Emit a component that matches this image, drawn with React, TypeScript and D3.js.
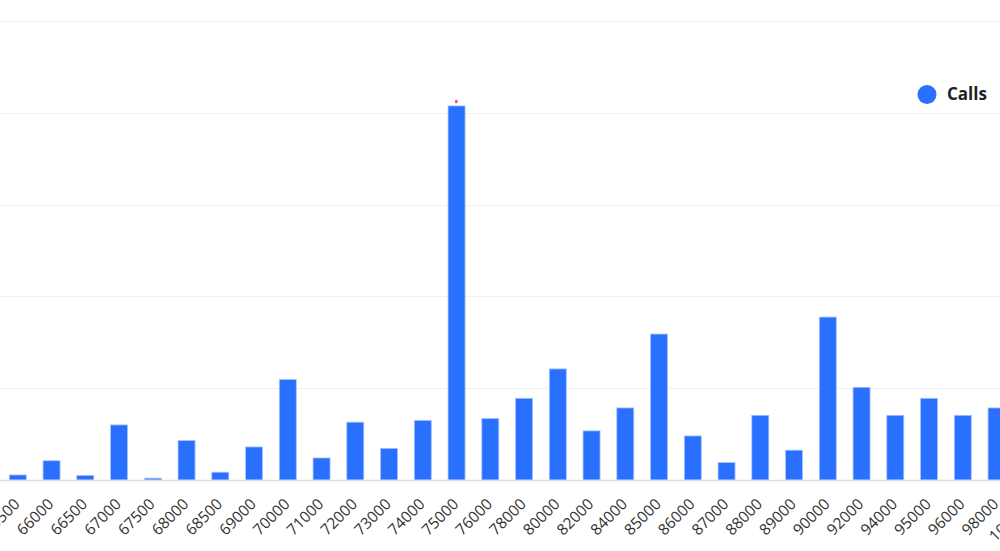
import React from "react";
import * as d3 from "d3";

const categories = [
  "65500", "66000", "66500", "67000", "67500", "68000", "68500", "69000",
  "70000", "71000", "72000", "73000", "74000", "75000", "76000", "78000",
  "80000", "82000", "84000", "85000", "86000", "87000", "88000", "89000",
  "90000", "92000", "94000", "95000", "96000", "98000", "100000",
];
const calls = [
  1.1, 4.2, 1.0, 12.0, 0.4, 8.6, 1.7, 7.2,
  21.9, 4.8, 12.6, 6.9, 13.0, 81.5, 13.4, 17.8,
  24.2, 10.7, 15.7, 31.8, 9.6, 3.8, 14.1, 6.5,
  35.5, 20.2, 14.1, 17.8, 14.1, 15.7, 12.0,
];
const yTicks = [0, 20, 40, 60, 80, 100];
const markerCategory = "75000";
const markerRange = [82.1, 82.8];
const seriesName = "Calls";

export default function App() {
  const W = 1000;
  const H = 551;
  const step = 33.75;
  const c0 = 17.8;
  const x = d3
    .scaleBand<string>()
    .domain(categories)
    .range([c0 - step / 2, c0 - step / 2 + step * categories.length])
    .paddingInner(0.5)
    .paddingOuter(0.25);
  const y = d3.scaleLinear().domain([0, 100]).range([480, 21]);
  const bw = 17;
  const cx = (c: string) => (x(c) as number) + x.bandwidth() / 2;

  return (
    <svg
      width={W}
      height={H}
      style={{ position: "absolute", left: 0, top: 0, overflow: "hidden", fontFamily: "'Open Sans', 'Noto Sans', sans-serif" }}
    >
      <rect width={W} height={H} fill="#fff" />
      {yTicks.slice(1).map((t) => (
        <line key={t} x1={0} x2={W} y1={Math.round(y(t)) + 0.5} y2={Math.round(y(t)) + 0.5} stroke="#f0f0f0" strokeWidth={1} />
      ))}
      {categories.map((c, i) => (
        <rect
          key={c}
          x={cx(c) - bw / 2}
          y={y(calls[i])}
          width={bw}
          height={y(0) - y(calls[i])}
          fill="#2970ff"
          stroke="#a9c4ff"
          strokeWidth={0.8}
        />
      ))}
      <line x1={0} x2={W} y1={480.5} y2={480.5} stroke="#dedede" strokeWidth={1.5} />
      <rect
        x={cx(markerCategory) - 1.5}
        y={y(markerRange[1])}
        width={2.5}
        height={y(markerRange[0]) - y(markerRange[1])}
        fill="#e8577f"
      />
      {categories.map((c) => (
        <text
          key={c}
          transform={`translate(${cx(c)},${502}) rotate(-45)`}
          textAnchor="end"
          dominantBaseline="middle"
          fontSize={15.5}
          fill="#333"
        >
          {c}
        </text>
      ))}
      <g transform="translate(927,94.5)">
        <circle r={9.5} fill="#2970ff" />
        <text x={20} y={1} dominantBaseline="middle" fontSize={17} fontWeight={700} fill="#222">
          {seriesName}
        </text>
      </g>
    </svg>
  );
}
